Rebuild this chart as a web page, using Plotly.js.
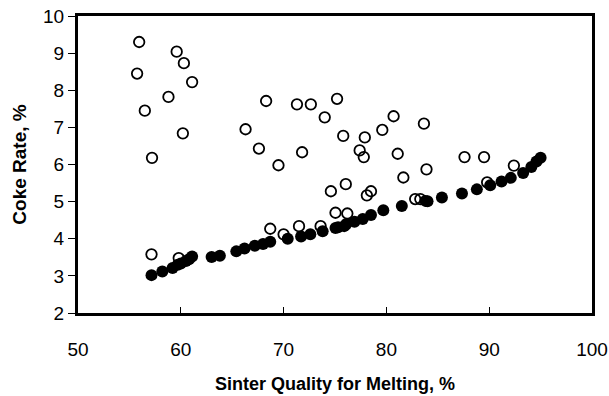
<!DOCTYPE html>
<html>
<head>
<meta charset="utf-8">
<script src="https://cdn.plot.ly/plotly-3.0.1.min.js"></script>
<style>html,body{margin:0;padding:0;background:#fff;}#chart{width:609px;height:396px;}</style>
</head>
<body>
<div id="chart"></div>
<script>
// Open circles (scattered observations)
const openX = [55.95, 59.6, 60.3, 55.75, 61.1, 58.8, 56.5, 60.2, 57.2, 57.15, 59.8,
  66.3, 67.6, 68.3, 69.5, 71.3, 71.8, 72.65, 74.0, 75.2, 75.8, 77.4, 77.8, 77.9, 79.6,
  80.7, 81.1, 81.65, 83.65, 83.9, 87.6, 89.5, 92.4, 89.8, 74.6, 76.05, 78.5, 78.1,
  82.8, 83.3, 75.05, 76.2, 68.7, 70.0, 71.5, 73.6];
const openY = [9.30, 9.04, 8.73, 8.45, 8.22, 7.82, 7.45, 6.84, 6.18, 3.58, 3.48,
  6.95, 6.43, 7.71, 5.98, 7.62, 6.33, 7.62, 7.27, 7.77, 6.77, 6.38, 6.20, 6.73, 6.93,
  7.30, 6.29, 5.65, 7.10, 5.87, 6.20, 6.20, 5.97, 5.52, 5.28, 5.47, 5.28, 5.17,
  5.07, 5.07, 4.70, 4.68, 4.27, 4.12, 4.34, 4.34];
// Filled circles (minimum line)
const fillX = [57.15, 58.2, 59.2, 59.7, 60.0, 60.5, 60.8, 61.1, 63.0, 63.8, 65.4, 66.2,
  67.2, 68.0, 68.7, 70.4, 71.7, 72.6, 73.8, 75.05, 75.3, 75.9, 76.1, 76.9, 77.7, 78.5,
  79.7, 81.5, 83.8, 84.0, 85.4, 87.35, 88.8, 90.1, 91.2, 92.1, 93.3, 94.1, 94.6, 95.0];
const fillY = [3.02, 3.12, 3.21, 3.30, 3.33, 3.40, 3.45, 3.52, 3.51, 3.54, 3.66, 3.74,
  3.81, 3.86, 3.92, 4.00, 4.06, 4.12, 4.20, 4.29, 4.31, 4.34, 4.40, 4.46, 4.53, 4.64,
  4.77, 4.88, 5.02, 5.01, 5.11, 5.22, 5.33, 5.44, 5.54, 5.64, 5.77, 5.93, 6.08, 6.18];
const xTicks = [50, 60, 70, 80, 90, 100];
const yTicks = [2, 3, 4, 5, 6, 7, 8, 9, 10];
const xTitle = 'Sinter Quality for Melting, %';
const yTitle = 'Coke Rate, %';

const font = 'Liberation Sans, Arial, sans-serif';
const traces = [
  {x: openX, y: openY, type: 'scatter', mode: 'markers', cliponaxis: false,
   marker: {symbol: 'circle-open', size: 10.5, color: '#000', line: {width: 1.8, color: '#000'}}},
  {x: fillX, y: fillY, type: 'scatter', mode: 'markers', cliponaxis: false,
   marker: {symbol: 'circle', size: 12, color: '#000'}}
];
const layout = {
  width: 609, height: 396,
  margin: {l: 77.5, r: 17, t: 16, b: 82.5},
  paper_bgcolor: '#fff', plot_bgcolor: '#fff',
  showlegend: false,
  font: {family: font, color: '#000'},
  xaxis: {
    range: [50, 100], tickvals: xTicks, ticktext: xTicks.map(String),
    showgrid: false, zeroline: false,
    showline: true, linewidth: 3, linecolor: '#000', mirror: true,
    ticks: 'inside', ticklen: 6, tickwidth: 1, tickcolor: '#000',
    ticklabelstandoff: 17,
    tickfont: {size: 19, family: font, color: '#000'},
    title: {text: '<b>' + xTitle + '</b>', font: {size: 18, family: font, color: '#000'}, standoff: 19},
    automargin: false
  },
  yaxis: {
    range: [2, 10], tickvals: yTicks, ticktext: yTicks.map(String),
    showgrid: false, zeroline: false,
    showline: true, linewidth: 3, linecolor: '#000', mirror: true,
    ticks: 'outside', ticklen: 7, tickwidth: 1, tickcolor: '#000',
    tickfont: {size: 19, family: font, color: '#000'},
    title: {text: '<b>' + yTitle + '</b>', font: {size: 19, family: font, color: '#000'}, standoff: 12},
    automargin: false
  }
};
Plotly.newPlot('chart', traces, layout, {displayModeBar: false, staticPlot: true});
</script>
</body>
</html>
